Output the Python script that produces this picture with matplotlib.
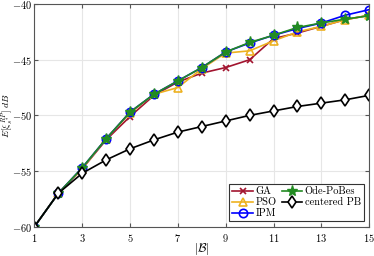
import numpy as np
import matplotlib
matplotlib.use('Agg')
import matplotlib.pyplot as plt

plt.rcParams['font.family'] = 'serif'
plt.rcParams['font.serif'] = ['cmr10', 'DejaVu Serif']
plt.rcParams['mathtext.fontset'] = 'cm'
plt.rcParams['axes.unicode_minus'] = False
plt.rcParams['axes.formatter.use_mathtext'] = True

B = np.arange(1, 16)
ga = [-60, -57.0, -54.8, -52.2, -50.1, -48.2, -47.0, -46.2, -45.7, -45.0, -43.1, -42.6, -42.0, -41.4, -41.0]
pso = [-60, -57.0, -54.8, -52.1, -49.8, -48.1, -47.5, -45.8, -44.4, -44.2, -43.3, -42.5, -42.0, -41.4, -41.0]
ipm = [-60, -57.0, -54.7, -52.1, -49.7, -48.1, -46.9, -45.7, -44.3, -43.5, -42.8, -42.2, -41.7, -41.0, -40.5]
ode = [-60, -57.0, -54.7, -52.1, -49.7, -48.1, -46.9, -45.7, -44.3, -43.45, -42.8, -42.1, -41.7, -41.35, -41.05]
cpb = [-60, -57.0, -55.2, -54.0, -53.0, -52.2, -51.5, -51.0, -50.5, -50.0, -49.6, -49.2, -48.9, -48.6, -48.2]

fig = plt.figure(figsize=(3.74, 2.56), dpi=100)
ax = fig.add_axes([0.092, 0.1145, 0.895, 0.8695])

ax.plot(B, ga, color='#A2142F', marker='x', ms=4, lw=1.2, mew=1.2, label='GA')
ax.plot(B, pso, color='#EDB120', marker='^', ms=6, lw=1.2, mfc='none', mew=1.2, label='PSO')
ax.plot(B, ipm, color='#0000FF', marker='o', ms=6, lw=1.2, mfc='none', mew=1.2, label='IPM')
ax.plot(B, ode, color='#228B22', marker='*', ms=8, lw=1.2, label='Ode-PoBes')
ax.plot(B, cpb, color='black', marker='d', ms=6, lw=1.2, mfc='white', mew=1.2, label='centered PB')

ax.set_xlim(1, 15)
ax.set_ylim(-60, -40)
ax.set_xticks(np.arange(1, 16, 2))
ax.set_yticks(np.arange(-60, -39, 5))
ax.tick_params(direction='in', labelsize=7.5, top=True, right=True, length=3, color='#555555')
ax.tick_params(axis='y', pad=1.5)
ax.grid(True, color='#e6e6e6', lw=0.8)
for s in ax.spines.values():
    s.set_color('#555555')
ax.set_xlabel(r'$|\mathcal{B}|$', fontsize=9)
ax.set_ylabel(r'$E[\xi_{s^*}^{RP}]\ dB$', fontsize=7)
ax.xaxis.set_label_coords(0.5, -0.066)
ax.yaxis.set_label_coords(-0.057, 0.5)

leg = ax.legend(loc='lower right', ncol=2, fontsize=7.5, fancybox=False, edgecolor='#333333',
                handlelength=2.0, columnspacing=0.5, handletextpad=0.2, labelspacing=0.15,
                borderpad=0.3, borderaxespad=0.5, framealpha=1)
leg.get_frame().set_linewidth(0.8)

fig.savefig('out.png', dpi=100)
